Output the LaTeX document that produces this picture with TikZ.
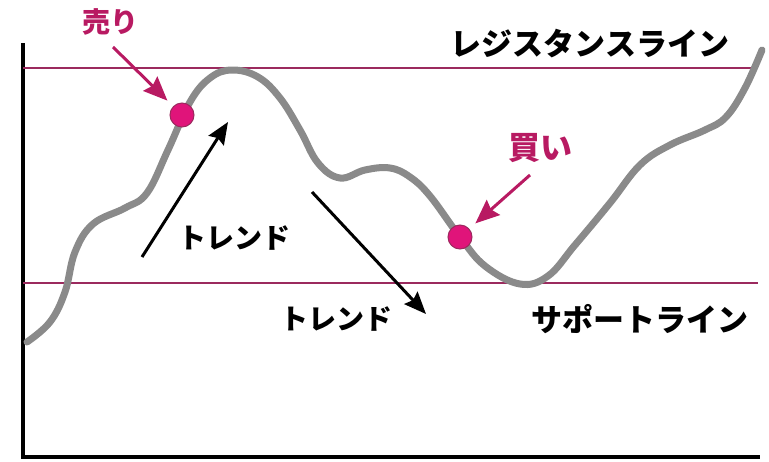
\documentclass[tikz,border=0pt]{standalone}
\usepackage{fontspec}
\setmainfont{Noto Sans CJK JP}
\usetikzlibrary{arrows.meta}
\usepackage{xcolor}
\definecolor{levelc}{HTML}{9B2A5E}
\definecolor{signalc}{HTML}{B81A62}
\definecolor{dotc}{HTML}{E0147A}
\definecolor{pricec}{HTML}{8A8A8A}

\begin{document}
\begin{tikzpicture}[x=1pt,y=-1pt,
 level/.style={levelc, line width=2},
 price/.style={pricec, line width=7, line cap=round},
 dot/.style={circle, fill=dotc, draw=levelc, line width=1, minimum size=24, inner sep=0},
 txt/.style={font=\fontsize{#1}{#1}\selectfont\bfseries, inner sep=0},
 sig/.style={txt=28, text=signalc},
 trendarrow/.style={black, line width=3, -{Stealth[length=22, width=18, inset=3]}},
 sigarrow/.style={signalc, line width=3, -{Stealth[length=24, width=20, inset=3]}, shorten >=8}]
\useasboundingbox (0,0) rectangle (769,461);
% axes
\draw[black, line width=3.5] (23,43)--(23,457)--(760,457);
% resistance and support
\draw[level] (23,68)--(758,68);
\draw[level] (23,283)--(758,283);
% price
\draw[price] plot[smooth, tension=.65] coordinates {(27,342) (50,322) (65,292) (75,252) (93,224) (125,208) (147,193) (168,150) (190,102) (210,78) (232,70) (258,77) (280,98) (300,130) (318,163) (340,178) (365,170) (390,168) (410,177) (430,196) (460,237) (485,266) (520,284) (548,276) (575,245) (610,203) (640,165) (670,145) (705,130) (726,117) (745,88) (762,50)};
% signals
\node[dot] (sell) at (182,115) {};
\node[dot] (buy) at (460,237) {};
\node[sig] (selllbl) at (110,22) {売り};
\node[sig, txt=32] (buylbl) at (540,148) {買い};
\coordinate (sellfrom) at (113,47);
\coordinate (buyfrom) at (530,175);
\draw[sigarrow] (sellfrom)--(sell);
\draw[sigarrow] (buyfrom)--(buy);
% trends
\coordinate (up1) at (142,257);
\coordinate (up2) at (228,122);
\coordinate (dn1) at (312,192);
\coordinate (dn2) at (426,314);
\draw[trendarrow] (up1)--(up2);
\draw[trendarrow] (dn1)--(dn2);
\node[txt=28] (trendup) at (234,238) {トレンド};
\node[txt=28] (trenddn) at (336,319) {トレンド};
\node[txt=31] (resist) at (590,44) {レジスタンスライン};
\node[txt=31] (support) at (640,319) {サポートライン};
\end{tikzpicture}
\end{document}
